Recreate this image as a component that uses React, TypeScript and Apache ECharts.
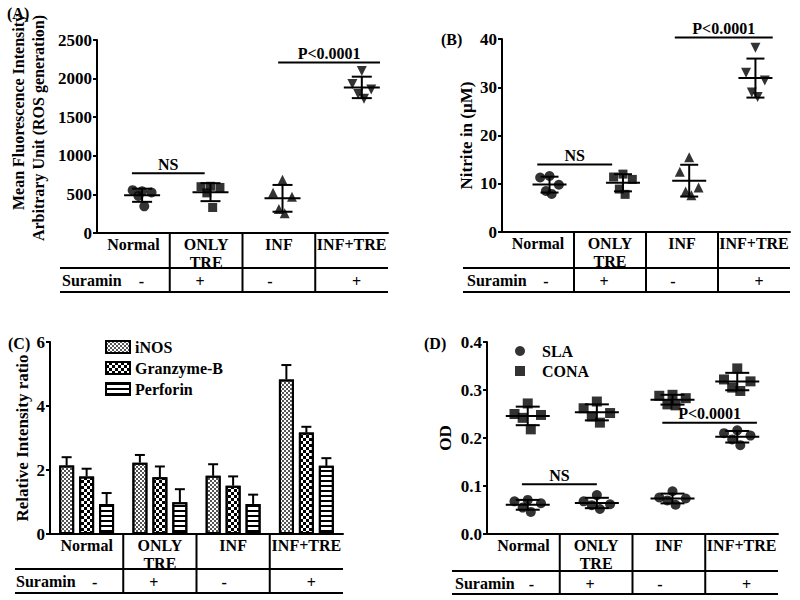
import React, { useEffect, useRef } from "react";
import * as echarts from "echarts";

const categories = ["Normal", "ONLY\nTRE", "INF", "INF+TRE"];
const suraminSigns = ["-", "+", "-", "+"];

// Panel A: ROS generation (MFI)
const rosNormal = [540, 555, 525, 480, 345];
const rosOnlyTre = [605, 600, 590, 520, 330];
const rosInf = [690, 520, 470, 310, 255];
const rosInfTre = [2100, 1930, 1860, 1800, 1740];

// Panel B: Nitrite (µM)
const no2Normal = [11.6, 11.3, 9.8, 8.5, 7.9];
const no2OnlyTre = [12.0, 11.4, 10.9, 8.9, 7.8];
const no2Inf = [15.5, 12.5, 9.2, 8.4, 7.6];
const no2InfTre = [38.2, 33.0, 31.4, 28.9, 28.0];

// Panel C: Relative intensity ratio (mean, error)
const inosMean = [2.14, 2.23, 1.82, 4.83];
const inosErr = [0.26, 0.24, 0.36, 0.45];
const granzMean = [1.8, 1.77, 1.51, 3.17];
const granzErr = [0.24, 0.34, 0.29, 0.18];
const perfMean = [0.94, 0.99, 0.94, 2.13];
const perfErr = [0.34, 0.41, 0.29, 0.24];

// Panel D: OD
const slaNormal = [0.071, 0.068, 0.064, 0.055, 0.046];
const slaOnlyTre = [0.081, 0.068, 0.062, 0.06, 0.052];
const slaInf = [0.089, 0.076, 0.074, 0.07, 0.061];
const slaInfTre = [0.216, 0.21, 0.205, 0.197, 0.185];
const conaNormal = [0.272, 0.25, 0.248, 0.242, 0.218];
const conaOnlyTre = [0.276, 0.262, 0.252, 0.245, 0.232];
const conaInf = [0.29, 0.288, 0.283, 0.27, 0.268];
const conaInfTre = [0.345, 0.322, 0.318, 0.305, 0.298];

// significance annotations (data coordinates: x-range in category units, y value)
const annotA = [
  { label: "NS", from: 0.48, to: 1.48, y: 775 },
  { label: "P<0.0001", from: 2.49, to: 3.89, y: 2210 },
];
const annotB = [
  { label: "NS", from: 0.49, to: 1.53, y: 14 },
  { label: "P<0.0001", from: 2.4, to: 3.76, y: 40.3 },
];
const annotD = [
  { label: "NS", from: 0.48, to: 1.51, y: 0.1035 },
  { label: "P<0.0001", from: 2.41, to: 3.71, y: 0.232 },
];

// ---- layout ----
const FAMILY = "Liberation Serif";
const FONT16 = `bold 16px ${FAMILY}`;
const txt = (size = 16) => ({ fontFamily: FAMILY, fontWeight: "bold" as const, fontSize: size, color: "#000" });
const JITTER = [0, -0.13, 0.13, -0.05, 0.03];
const SIGN_SHIFT = [8, -6, -9, 5];

const grids = [
  { left: 97, right: 388, top: 40, bottom: 233 },
  { left: 502, right: 790, top: 39, bottom: 232 },
  { left: 50, right: 343, top: 342, bottom: 534 },
  { left: 487, right: 778, top: 342, bottom: 534 },
];
const tables = [
  { tableLeft: 60, line1: 268, line2: 292, suraminX: 62, rowY: 280 },
  { tableLeft: 463, line1: 268, line2: 292, suraminX: 467, rowY: 280 },
  { tableLeft: 15, line1: 569, line2: 593, suraminX: 16, rowY: 581 },
  { tableLeft: 452, line1: 571, line2: 594, suraminX: 455, rowY: 583 },
];
const panelLabels = [
  { t: "(A)", x: 7, y: 13 },
  { t: "(B)", x: 441, y: 39 },
  { t: "(C)", x: 8, y: 343 },
  { t: "(D)", x: 424, y: 343 },
];
const titleA = [
  { t: "Mean Fluorescence Intensity", x: 18, y: 112 },
  { t: "Arbitrary Unit (ROS generation)", x: 38, y: 128 },
];

const mean = (a: number[]) => a.reduce((s, v) => s + v, 0) / a.length;
const sd = (a: number[]) => {
  const m = mean(a);
  return Math.sqrt(a.reduce((s, v) => s + (v - m) * (v - m), 0) / (a.length - 1));
};

const LINE = { stroke: "#000", lineWidth: 2 };

const meanSdRender = (halfMean: number, halfCap: number) => (_p: any, api: any) => {
  const x = api.value(0), m = api.value(1), s = api.value(2);
  const pm = api.coord([x, m]);
  const pu = api.coord([x, m + s]);
  const pl = api.coord([x, m - s]);
  return {
    type: "group",
    children: [
      { type: "line", shape: { x1: pm[0] - halfMean, y1: pm[1], x2: pm[0] + halfMean, y2: pm[1] }, style: LINE },
      { type: "line", shape: { x1: pu[0], y1: pu[1], x2: pl[0], y2: pl[1] }, style: LINE },
      { type: "line", shape: { x1: pu[0] - halfCap, y1: pu[1], x2: pu[0] + halfCap, y2: pu[1] }, style: LINE },
      { type: "line", shape: { x1: pl[0] - halfCap, y1: pl[1], x2: pl[0] + halfCap, y2: pl[1] }, style: LINE },
    ],
  };
};

const annotSeries = (list: { label: string; from: number; to: number; y: number }[], xi: number, yi: number) =>
  list.map((a) => ({
    type: "custom",
    xAxisIndex: xi,
    yAxisIndex: yi,
    clip: false,
    silent: true,
    data: [[a.from, a.to, a.y]],
    encode: { x: [0, 1], y: 2 },
    renderItem: (_p: any, api: any) => {
      const p1 = api.coord([api.value(0), api.value(2)]);
      const p2 = api.coord([api.value(1), api.value(2)]);
      return {
        type: "group",
        children: [
          { type: "line", shape: { x1: p1[0], y1: p1[1], x2: p2[0], y2: p2[1] }, style: LINE },
          {
            type: "text",
            style: {
              text: a.label,
              x: (p1[0] + p2[0]) / 2,
              y: p1[1] - 1,
              textAlign: "center",
              textVerticalAlign: "bottom",
              font: FONT16,
              fill: "#000",
            },
          },
        ],
      };
    },
  }));

const groupScatter = (name: string, vals: number[], g: number, xi: number, yi: number, symbol: string, rotate = 0, shift = 0) => ({
  type: "scatter",
  name,
  xAxisIndex: xi,
  yAxisIndex: yi,
  symbol,
  symbolSize: symbol === "rect" ? 9 : 10,
  symbolRotate: rotate,
  itemStyle: { color: "#000" },
  data: vals.map((v, j) => [g + 0.5 + shift + JITTER[j], v]),
});

const meanSdSeries = (groups: number[][], xi: number, yi: number, hm: number, hc: number, shifts: number[]) => ({
  type: "custom",
  xAxisIndex: xi,
  yAxisIndex: yi,
  clip: false,
  silent: true,
  data: groups.map((vals, g) => [g + 0.5 + shifts[g], mean(vals), sd(vals)]),
  encode: { x: 0, y: 1 },
  renderItem: meanSdRender(hm, hc),
  z: 3,
});

const catAxis = (gridIndex: number) => ({
  gridIndex,
  type: "category",
  data: categories,
  boundaryGap: true,
  axisLine: { show: true, lineStyle: { color: "#000", width: 2 } },
  axisTick: { show: false },
  axisLabel: { ...txt(16), margin: 2, interval: 0, lineHeight: 18 },
  splitLine: { show: false },
});
const valXAxis = (gridIndex: number) => ({ gridIndex, type: "value", min: 0, max: 4, show: false });
const yAxis = (gridIndex: number, max: number, interval: number, name: string, nameGap: number, formatter: any) => ({
  gridIndex,
  type: "value",
  min: 0,
  max,
  interval,
  name,
  nameLocation: "middle",
  nameGap,
  nameRotate: 90,
  nameTextStyle: { ...txt(17), lineHeight: 20 },
  axisLine: { show: true, lineStyle: { color: "#000", width: 2 } },
  axisTick: { show: true, length: 4, lineStyle: { color: "#000", width: 2 } },
  axisLabel: { ...txt(17), margin: 5, formatter },
  splitLine: { show: false },
});

function buildGraphics() {
  const els: any[] = [];
  grids.forEach((gr, i) => {
    const tb = tables[i];
    const cw = (gr.right - gr.left) / 4;
    els.push({ type: "line", shape: { x1: tb.tableLeft, y1: tb.line1, x2: gr.right, y2: tb.line1 }, style: LINE });
    els.push({ type: "line", shape: { x1: tb.tableLeft, y1: tb.line2, x2: gr.right, y2: tb.line2 }, style: LINE });
    for (let k = 1; k < 4; k++) {
      const x = gr.left + k * cw;
      els.push({ type: "line", shape: { x1: x, y1: gr.bottom, x2: x, y2: tb.line2 }, style: LINE });
    }
    els.push({
      type: "text",
      style: { text: "Suramin", x: tb.suraminX, y: tb.rowY, textAlign: "left", textVerticalAlign: "middle", font: FONT16, fill: "#000" },
    });
    suraminSigns.forEach((s, k) => {
      els.push({
        type: "text",
        style: {
          text: s,
          x: gr.left + (k + 0.5) * cw + SIGN_SHIFT[k],
          y: tb.rowY + 1,
          textAlign: "center",
          textVerticalAlign: "middle",
          font: FONT16,
          fill: "#000",
        },
      });
    });
  });
  panelLabels.forEach((p) => {
    els.push({
      type: "text",
      style: { text: p.t, x: p.x, y: p.y, textAlign: "left", textVerticalAlign: "middle", font: FONT16, fill: "#000" },
    });
  });
  titleA.forEach((p) => {
    els.push({
      type: "text",
      x: p.x,
      y: p.y,
      rotation: Math.PI / 2,
      style: { text: p.t, x: 0, y: 0, textAlign: "center", textVerticalAlign: "middle", font: `bold 16px ${FAMILY}`, fill: "#000" },
    });
  });
  return els;
}

const barDecals: any[] = [
  { symbol: "rect", symbolSize: 1, dashArrayX: [[2, 2], [0, 2, 2, 0]], dashArrayY: [2, 0], color: "#555" },
  { symbol: "rect", symbolSize: 1, dashArrayX: [[3, 3], [0, 3, 3, 0]], dashArrayY: [3, 0], color: "#000" },
  { symbol: "rect", symbolSize: 1, dashArrayX: [1, 0], dashArrayY: [1.5, 2.5], color: "#000" },
];

const plain = (v: number) => String(v);

export default function App() {
  const ref = useRef<HTMLDivElement>(null);
  useEffect(() => {
    if (!ref.current) return;
    const chart = echarts.init(ref.current, undefined, { renderer: "svg" });

    const barNames = ["iNOS", "Granzyme-B", "Perforin"];
    const barMeans = [inosMean, granzMean, perfMean];
    const barErrs = [inosErr, granzErr, perfErr];
    const errData: number[][] = [];
    barMeans.forEach((ms, s) => ms.forEach((m, c) => errData.push([c, m, barErrs[s][c], s])));

    const shiftA = [0.12, 0.06, 0.05, 0.14];
    const shiftB = [0.16, 0.18, 0.1, 0.02];
    const shiftD = [0.06, 0.01, 0.05, -0.06];

    const option: any = {
      animation: false,
      backgroundColor: "#fff",
      textStyle: { fontFamily: FAMILY },
      grid: grids.map((g) => ({ left: g.left, top: g.top, width: g.right - g.left, height: g.bottom - g.top, containLabel: false })),
      xAxis: [catAxis(0), valXAxis(0), catAxis(1), valXAxis(1), catAxis(2), catAxis(3), valXAxis(3)],
      yAxis: [
        yAxis(0, 2500, 500, "", 40, plain),
        yAxis(1, 40, 10, "Nitrite in (µM)", 26, plain),
        yAxis(2, 6, 2, "Relative Intensity ratio", 13, plain),
        yAxis(3, 0.4, 0.1, "OD", 32, (v: number) => v.toFixed(1)),
      ],
      legend: [
        {
          data: ["iNOS", "Granzyme-B", "Perforin"],
          orient: "vertical",
          left: 100,
          top: 334,
          itemWidth: 24,
          itemHeight: 12,
          itemGap: 5,
          icon: "rect",
          textStyle: { ...txt(16) },
          selectedMode: false,
        },
        {
          data: ["SLA", "CONA"],
          orient: "vertical",
          left: 510,
          top: 338,
          itemWidth: 10,
          itemHeight: 10,
          itemGap: 4,
          textStyle: { ...txt(16), padding: [0, 0, 0, 12] },
          selectedMode: false,
        },
      ],
      series: [
        // Panel A
        groupScatter("A-Normal", rosNormal, 0, 1, 0, "circle", 0, shiftA[0]),
        groupScatter("A-OnlyTre", rosOnlyTre, 1, 1, 0, "rect", 0, shiftA[1]),
        groupScatter("A-Inf", rosInf, 2, 1, 0, "triangle", 0, shiftA[2]),
        groupScatter("A-InfTre", rosInfTre, 3, 1, 0, "triangle", 180, shiftA[3]),
        meanSdSeries([rosNormal, rosOnlyTre, rosInf, rosInfTre], 1, 0, 18, 10, shiftA),
        ...annotSeries(annotA, 1, 0),
        // Panel B
        groupScatter("B-Normal", no2Normal, 0, 3, 1, "circle", 0, shiftB[0]),
        groupScatter("B-OnlyTre", no2OnlyTre, 1, 3, 1, "rect", 0, shiftB[1]),
        groupScatter("B-Inf", no2Inf, 2, 3, 1, "triangle", 0, shiftB[2]),
        groupScatter("B-InfTre", no2InfTre, 3, 3, 1, "triangle", 180, shiftB[3]),
        meanSdSeries([no2Normal, no2OnlyTre, no2Inf, no2InfTre], 3, 1, 17, 9, shiftB),
        ...annotSeries(annotB, 3, 1),
        // Panel C
        ...barNames.map((n, s) => ({
          type: "bar",
          name: n,
          xAxisIndex: 4,
          yAxisIndex: 2,
          data: barMeans[s],
          barWidth: 15,
          barGap: "33%",
          itemStyle: { color: "#fff", borderColor: "#000", borderWidth: 2, decal: barDecals[s] },
        })),
        {
          type: "custom",
          xAxisIndex: 4,
          yAxisIndex: 2,
          silent: true,
          data: errData,
          encode: { x: 0, y: 1 },
          renderItem: (_p: any, api: any) => {
            const c = api.value(0), m = api.value(1), e = api.value(2), s = api.value(3);
            const b = api.coord([c, m]);
            const t = api.coord([c, m + e]);
            const x = b[0] + (s - 1) * 20;
            return {
              type: "group",
              children: [
                { type: "line", shape: { x1: x, y1: b[1], x2: x, y2: t[1] }, style: LINE },
                { type: "line", shape: { x1: x - 5, y1: t[1], x2: x + 5, y2: t[1] }, style: LINE },
              ],
            };
          },
        },
        // Panel D
        {
          type: "scatter",
          name: "SLA",
          xAxisIndex: 6,
          yAxisIndex: 3,
          symbol: "circle",
          symbolSize: 10,
          itemStyle: { color: "#000" },
          data: [slaNormal, slaOnlyTre, slaInf, slaInfTre].flatMap((vals, g) =>
            vals.map((v, j) => [g + 0.5 + shiftD[g] + JITTER[j] * 1.4, v])
          ),
        },
        {
          type: "scatter",
          name: "CONA",
          xAxisIndex: 6,
          yAxisIndex: 3,
          symbol: "rect",
          symbolSize: 10,
          itemStyle: { color: "#000" },
          data: [conaNormal, conaOnlyTre, conaInf, conaInfTre].flatMap((vals, g) =>
            vals.map((v, j) => [g + 0.5 + shiftD[g] + JITTER[j] * 1.4, v])
          ),
        },
        meanSdSeries([slaNormal, slaOnlyTre, slaInf, slaInfTre], 6, 3, 22, 12, shiftD),
        meanSdSeries([conaNormal, conaOnlyTre, conaInf, conaInfTre], 6, 3, 22, 12, shiftD),
        ...annotSeries(annotD, 6, 3),
      ],
      graphic: buildGraphics(),
    };
    chart.setOption(option);
    return () => chart.dispose();
  }, []);
  return <div ref={ref} style={{ position: "fixed", left: 0, top: 0, width: 800, height: 600, background: "#fff" }} />;
}
